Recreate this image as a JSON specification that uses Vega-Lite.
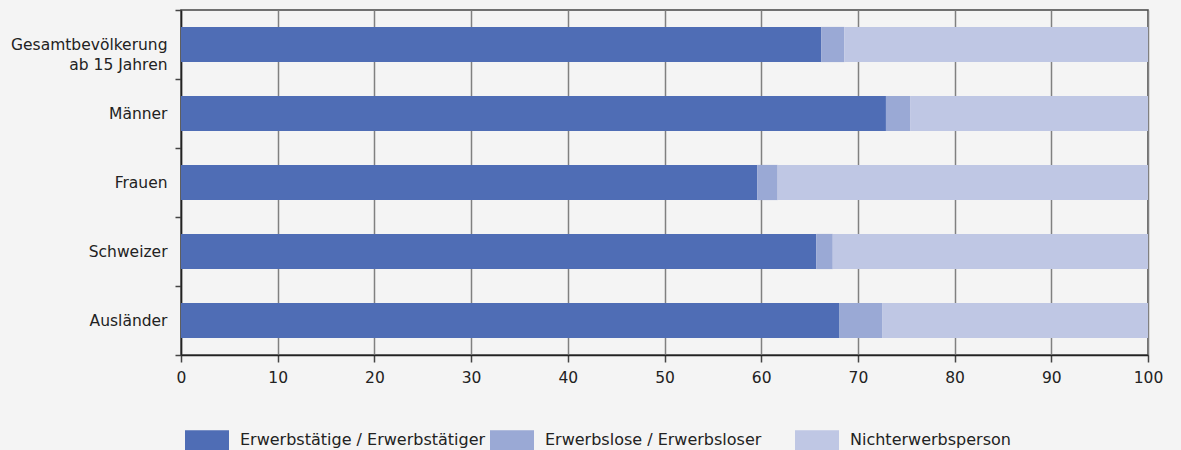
{
  "$schema": "https://vega.github.io/schema/vega-lite/v6.json",
  "autosize": "none",
  "width": 967,
  "height": 345,
  "padding": {"left": 181, "top": 10, "right": 33, "bottom": 95},
  "background": "#f4f4f4",
  "config": {
    "font": "DejaVu Sans",
    "view": {"stroke": "#444444", "strokeWidth": 1.5}
  },
  "data": {
    "values": [
      {"gruppe": "Gesamtbevölkerung|ab 15 Jahren", "status": "Erwerbstätige / Erwerbstätiger", "ord": 1, "wert": 66.2},
      {"gruppe": "Gesamtbevölkerung|ab 15 Jahren", "status": "Erwerbslose / Erwerbsloser", "ord": 2, "wert": 2.4},
      {"gruppe": "Gesamtbevölkerung|ab 15 Jahren", "status": "Nichterwerbsperson", "ord": 3, "wert": 31.4},
      {"gruppe": "Männer", "status": "Erwerbstätige / Erwerbstätiger", "ord": 1, "wert": 72.9},
      {"gruppe": "Männer", "status": "Erwerbslose / Erwerbsloser", "ord": 2, "wert": 2.5},
      {"gruppe": "Männer", "status": "Nichterwerbsperson", "ord": 3, "wert": 24.6},
      {"gruppe": "Frauen", "status": "Erwerbstätige / Erwerbstätiger", "ord": 1, "wert": 59.6},
      {"gruppe": "Frauen", "status": "Erwerbslose / Erwerbsloser", "ord": 2, "wert": 2.1},
      {"gruppe": "Frauen", "status": "Nichterwerbsperson", "ord": 3, "wert": 38.3},
      {"gruppe": "Schweizer", "status": "Erwerbstätige / Erwerbstätiger", "ord": 1, "wert": 65.7},
      {"gruppe": "Schweizer", "status": "Erwerbslose / Erwerbsloser", "ord": 2, "wert": 1.7},
      {"gruppe": "Schweizer", "status": "Nichterwerbsperson", "ord": 3, "wert": 32.6},
      {"gruppe": "Ausländer", "status": "Erwerbstätige / Erwerbstätiger", "ord": 1, "wert": 68.1},
      {"gruppe": "Ausländer", "status": "Erwerbslose / Erwerbsloser", "ord": 2, "wert": 4.4},
      {"gruppe": "Ausländer", "status": "Nichterwerbsperson", "ord": 3, "wert": 27.5}
    ]
  },
  "mark": {"type": "bar", "height": {"band": 0.51}},
  "encoding": {
    "y": {
      "field": "gruppe",
      "type": "nominal",
      "sort": null,
      "scale": {"paddingInner": 0, "paddingOuter": 0},
      "axis": {
        "title": null,
        "labelExpr": "split(datum.label, '|')",
        "labelFontSize": 15.5,
        "labelColor": "#222222",
        "labelLineHeight": 20,
        "labelPadding": 8,
        "tickBand": "extent",
        "tickSize": 6,
        "tickColor": "#444444",
        "tickWidth": 1.5,
        "domainColor": "#222222",
        "domainWidth": 1.5,
        "grid": false
      }
    },
    "x": {
      "field": "wert",
      "type": "quantitative",
      "stack": "zero",
      "scale": {"domain": [0, 100], "nice": false},
      "axis": {
        "title": null,
        "values": [0, 10, 20, 30, 40, 50, 60, 70, 80, 90, 100],
        "labelFontSize": 15.5,
        "labelColor": "#222222",
        "labelPadding": 8,
        "labelFlush": false,
        "tickSize": 7,
        "tickColor": "#444444",
        "tickWidth": 1.5,
        "domainColor": "#222222",
        "domainWidth": 1.5,
        "grid": true,
        "gridColor": "#808080",
        "gridWidth": 1.5,
        "gridOpacity": 1
      }
    },
    "color": {
      "field": "status",
      "type": "nominal",
      "sort": ["Erwerbstätige / Erwerbstätiger", "Erwerbslose / Erwerbsloser", "Nichterwerbsperson"],
      "scale": {
        "domain": ["Erwerbstätige / Erwerbstätiger", "Erwerbslose / Erwerbsloser", "Nichterwerbsperson"],
        "range": ["#4f6db5", "#9aa9d5", "#bfc7e4"]
      },
      "legend": {
        "title": null,
        "orient": "none",
        "direction": "horizontal",
        "legendX": 4,
        "legendY": 408,
        "gridAlign": "all",
        "symbolType": "M-1,-0.45H1V0.45H-1Z",
        "symbolSize": 1936,
        "symbolStrokeWidth": 0,
        "symbolOpacity": 1,
        "labelFontSize": 16,
        "labelColor": "#222222",
        "labelOffset": 11,
        "columnPadding": 4,
        "labelLimit": 400
      }
    },
    "order": {"field": "ord", "type": "quantitative"}
  }
}
